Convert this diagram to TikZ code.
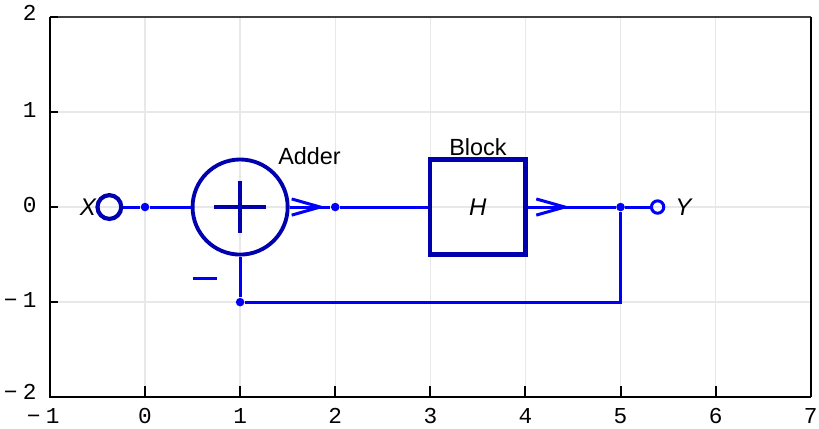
\documentclass[tikz,border=0pt]{standalone}
\usepackage{fontspec}
\setmainfont{Liberation Sans}
\newfontfamily\tickfont{Liberation Mono}
\usetikzlibrary{arrows.meta,decorations.markings}
\definecolor{wireblue}{RGB}{0,0,250}
\definecolor{shapeblue}{RGB}{0,0,175}
\tikzset{
  wire/.style={draw=wireblue, line width=0.9pt},
  shapeline/.style={draw=shapeblue, line width=1.15pt},
  dotnode/.style={circle, fill=wireblue, inner sep=0pt, minimum size=0.09cm},
  ticklab/.style={font=\tickfont\fontsize{6.8}{7}\selectfont, inner sep=1pt},
  lab/.style={font=\fontsize{7}{8}\selectfont, inner sep=0pt},
  itlab/.style={font=\itshape\fontsize{7.2}{8}\selectfont, inner sep=0pt},
  chevron/.style={postaction={decorate}, decoration={markings,
      mark=at position #1 with {\arrow[wireblue, line width=0.9pt]{Straight Barb[length=0.3cm, width=0.17cm]}}}}
}
\begin{document}
\begin{tikzpicture}
\useasboundingbox (-1.525,-2.324) rectangle (7.087,2.177);
% grid
\draw[gray!18, line width=0.4pt] (-1,-2) grid (7,2);
% frame
\draw[black!75, line width=0.7pt] (-1,2) -- (7,2);
\draw[black, line width=0.7pt] (7,2) -- (7,-2);
\draw[black, line width=0.7pt] (-1,2) -- (-1,-2) -- (7,-2);
% ticks
\foreach \y in {-2,-1,0,1,2} \draw[black, line width=0.6pt] (-1,\y) -- (-0.91,\y);
\foreach \x in {-1,0,...,7} \draw[black, line width=0.6pt] (\x,-2) -- (\x,-1.88);
% tick labels
\node[ticklab, anchor=east] (ly2) at (-1.1,2.04) {2};
\node[ticklab, anchor=east] (ly1) at (-1.1,1.02) {1};
\node[ticklab, anchor=east] (ly0) at (-1.1,0.02) {0};
\node[ticklab, anchor=east] (lym1) at (-1.1,-0.98) {−\hspace{1.6pt}1};
\node[ticklab, anchor=east] (lym2) at (-1.1,-1.94) {−\hspace{1.6pt}2};
\node[ticklab] (lxm1) at (-1.07,-2.2) {−\hspace{1.6pt}1};
\foreach \x in {0,...,7} \node[ticklab] (lx\x) at (\x,-2.2) {\x};
% nodes
\node[circle, shapeline, line width=1.25pt, inner sep=0pt, minimum size=0.25cm] (in) at (-0.375,0) {};
\node[dotnode] (d0) at (0,0) {};
\node[circle, shapeline, inner sep=0pt, minimum size=1cm] (add) at (1,0) {};
\node[dotnode] (d2) at (2,0) {};
\node[rectangle, shapeline, line width=1.25pt, inner sep=0pt, minimum size=1cm] (blk) at (3.5,0) {};
\node[itlab] (H) at (3.5,0) {H};
\node[dotnode] (d5) at (5,0) {};
\node[circle, draw=wireblue, line width=0.9pt, inner sep=0pt, minimum size=0.13cm] (out) at (5.39,0) {};
\node[dotnode] (d1m) at (1,-1) {};
% plus sign
\draw[shapeblue, line width=1.25pt] ([xshift=-0.27cm]add.center) -- ([xshift=0.27cm]add.center);
\draw[shapeblue, line width=1.25pt] ([yshift=-0.27cm]add.center) -- ([yshift=0.27cm]add.center);
% labels
\node[itlab] (X) at (-0.6,0) {X};
\node[itlab] (Y) at (5.66,0) {Y};
\node[lab] (addlab) at (1.73,0.54) {Adder};
\node[lab] (blklab) at (3.5,0.63) {Block};
% minus sign
\draw[wire] (0.5,-0.75) -- (0.76,-0.75);
% connectors
\draw[wire] (in) -- (d0);
\draw[wire] (d0) -- (add);
\draw[wire, chevron=0.38cm] (add) -- (d2);
\draw[wire] (d2) -- (blk);
\draw[wire, chevron=0.45cm] (blk) -- (d5);
\draw[wire] (d5) -- (out);
\draw[wire] (d5) |- (d1m);
\draw[wire] (d1m) -- (add);
\end{tikzpicture}
\end{document}
